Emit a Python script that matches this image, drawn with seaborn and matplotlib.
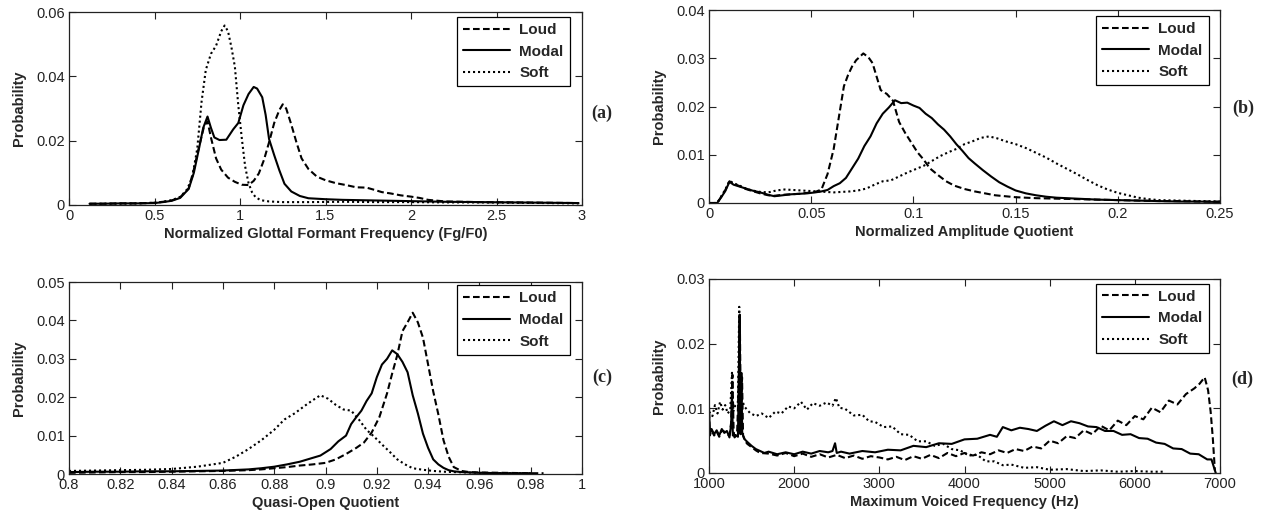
import matplotlib
matplotlib.use('Agg')
import matplotlib.pyplot as plt
import seaborn as sns

# ---- (a) Normalized Glottal Formant Frequency ----
a_loud_x = [0.12, 0.2, 0.3, 0.4, 0.5, 0.55, 0.6, 0.65, 0.7, 0.73, 0.76, 0.79, 0.81, 0.83, 0.86, 0.89, 0.93, 0.97,
            1.01, 1.05, 1.08, 1.11, 1.14, 1.17, 1.2, 1.23, 1.25, 1.27, 1.3, 1.33, 1.36, 1.4, 1.45, 1.5, 1.56, 1.62,
            1.68, 1.74, 1.78, 1.83, 1.88, 1.94, 2.0, 2.05, 2.1, 2.2, 2.4, 2.6, 2.8, 2.98]
a_loud_y = [0.0004, 0.0004, 0.0005, 0.0005, 0.0007, 0.001, 0.0014, 0.0024, 0.0052, 0.011, 0.018, 0.0245, 0.026,
            0.021, 0.0145, 0.011, 0.0085, 0.0072, 0.0063, 0.0062, 0.0075, 0.0098, 0.014, 0.0195, 0.0255, 0.0295,
            0.0313, 0.030, 0.025, 0.0195, 0.0145, 0.0112, 0.0088, 0.0077, 0.0068, 0.0062, 0.0055, 0.0054, 0.0048,
            0.004, 0.0036, 0.003, 0.0026, 0.0022, 0.0016, 0.0011, 0.0009, 0.0008, 0.0007, 0.0006]
a_modal_x = [0.12, 0.2, 0.3, 0.4, 0.5, 0.55, 0.6, 0.65, 0.7, 0.73, 0.76, 0.785, 0.81, 0.83, 0.85, 0.88, 0.92, 0.96,
             0.99, 1.02, 1.05, 1.08, 1.1, 1.13, 1.15, 1.17, 1.2, 1.23, 1.26, 1.3, 1.35, 1.4, 1.5, 1.6, 1.7, 1.8,
             1.9, 2.0, 2.2, 2.4, 2.6, 2.8, 2.98]
a_modal_y = [0.0004, 0.0004, 0.0005, 0.0005, 0.0006, 0.0009, 0.0013, 0.0022, 0.005, 0.01, 0.0175, 0.024, 0.0275,
             0.024, 0.021, 0.0202, 0.0203, 0.0235, 0.0255, 0.031, 0.0345, 0.0367, 0.0362, 0.0335, 0.028, 0.0205,
             0.0155, 0.0108, 0.0066, 0.0042, 0.0028, 0.0021, 0.0018, 0.0016, 0.0015, 0.0014, 0.0013, 0.0012, 0.001,
             0.0009, 0.0008, 0.0007, 0.0006]
a_soft_x = [0.12, 0.2, 0.3, 0.4, 0.5, 0.55, 0.6, 0.65, 0.69, 0.72, 0.75, 0.775, 0.8, 0.83, 0.86, 0.89, 0.91, 0.93,
            0.95, 0.97, 0.99, 1.01, 1.03, 1.05, 1.07, 1.09, 1.12, 1.17, 1.25, 1.4, 1.6, 1.8, 2.0, 2.2, 2.4, 2.6,
            2.8, 2.98]
a_soft_y = [0.0003, 0.0004, 0.0004, 0.0005, 0.0007, 0.001, 0.0015, 0.0025, 0.0048, 0.0085, 0.0175, 0.032, 0.042,
            0.047, 0.0495, 0.054, 0.0558, 0.054, 0.049, 0.043, 0.031, 0.021, 0.012, 0.0068, 0.004, 0.0025, 0.0015,
            0.0011, 0.0009, 0.0009, 0.001, 0.0009, 0.0009, 0.0008, 0.0008, 0.0007, 0.0006, 0.0005]

# ---- (b) Normalized Amplitude Quotient ----
b_modal_x = [0, 0.004, 0.006, 0.008, 0.01, 0.012, 0.015, 0.018, 0.021, 0.025, 0.029, 0.032, 0.036, 0.04, 0.044,
             0.048, 0.052, 0.055, 0.058, 0.061, 0.064, 0.067, 0.07, 0.073, 0.076, 0.079, 0.082, 0.085, 0.088,
             0.091, 0.094, 0.097, 0.1, 0.103, 0.106, 0.109, 0.112, 0.115, 0.118, 0.121, 0.124, 0.127, 0.13, 0.134,
             0.138, 0.142, 0.146, 0.15, 0.155, 0.16, 0.165, 0.17, 0.18, 0.19, 0.2, 0.21, 0.22, 0.23, 0.24, 0.25]
b_modal_y = [0, 0, 0.0012, 0.0025, 0.0044, 0.0038, 0.0034, 0.003, 0.0026, 0.0022, 0.0017, 0.0014, 0.0016, 0.0018,
             0.0019, 0.002, 0.0022, 0.0024, 0.0027, 0.0035, 0.0041, 0.0052, 0.0072, 0.0092, 0.0118, 0.0138, 0.0165,
             0.0185, 0.0198, 0.0213, 0.0207, 0.0208, 0.0202, 0.0197, 0.0185, 0.0176, 0.0163, 0.0152, 0.0138,
             0.0122, 0.0108, 0.0093, 0.0082, 0.0068, 0.0055, 0.0043, 0.0034, 0.0026, 0.002, 0.0016, 0.0013,
             0.0011, 0.0009, 0.0007, 0.0006, 0.0005, 0.0004, 0.0003, 0.0003, 0.0002]
b_loud_x = [0, 0.004, 0.006, 0.008, 0.01, 0.012, 0.015, 0.018, 0.021, 0.025, 0.029, 0.032, 0.036, 0.04, 0.044,
            0.048, 0.052, 0.055, 0.058, 0.061, 0.064, 0.066, 0.068, 0.07, 0.072, 0.074, 0.0755, 0.078, 0.08,
            0.082, 0.084, 0.087, 0.09, 0.093, 0.096, 0.099, 0.102, 0.105, 0.108, 0.112, 0.116, 0.12, 0.125, 0.13,
            0.135, 0.14, 0.145, 0.15, 0.16, 0.17, 0.18, 0.19, 0.2, 0.21, 0.22, 0.23, 0.24, 0.25]
b_loud_y = [0, 0, 0.0013, 0.0027, 0.0045, 0.004, 0.0035, 0.0029, 0.0025, 0.002, 0.0016, 0.0015, 0.0017, 0.0018,
            0.0019, 0.0021, 0.0023, 0.0028, 0.006, 0.0112, 0.019, 0.0242, 0.0265, 0.0283, 0.0296, 0.0304, 0.031,
            0.0302, 0.029, 0.0262, 0.0234, 0.0226, 0.0212, 0.0168, 0.0145, 0.0125, 0.0105, 0.009, 0.0072, 0.0058,
            0.0045, 0.0036, 0.0029, 0.0024, 0.002, 0.0016, 0.0014, 0.0012, 0.001, 0.0009, 0.0008, 0.0007, 0.0006,
            0.0005, 0.0004, 0.0004, 0.0003, 0.0003]
b_soft_x = [0, 0.004, 0.006, 0.008, 0.01, 0.012, 0.015, 0.018, 0.021, 0.025, 0.029, 0.033, 0.037, 0.041, 0.045,
            0.049, 0.053, 0.057, 0.061, 0.065, 0.069, 0.073, 0.077, 0.081, 0.085, 0.089, 0.093, 0.097, 0.101,
            0.105, 0.109, 0.113, 0.117, 0.121, 0.125, 0.129, 0.133, 0.137, 0.141, 0.145, 0.15, 0.155, 0.16,
            0.165, 0.17, 0.175, 0.18, 0.185, 0.19, 0.195, 0.2, 0.205, 0.21, 0.215, 0.22, 0.23, 0.24, 0.25]
b_soft_y = [0, 0, 0.0014, 0.0028, 0.0046, 0.0041, 0.0036, 0.003, 0.0026, 0.0023, 0.0022, 0.0026, 0.0028, 0.0027,
            0.0026, 0.0025, 0.0024, 0.0023, 0.0022, 0.0023, 0.0024, 0.0026, 0.003, 0.0038, 0.0045, 0.0047, 0.0055,
            0.0063, 0.007, 0.0077, 0.0087, 0.0097, 0.0105, 0.0112, 0.0122, 0.0128, 0.0135, 0.0138, 0.0134, 0.0128,
            0.0122, 0.0114, 0.0104, 0.0094, 0.0082, 0.0071, 0.006, 0.0048, 0.0037, 0.0028, 0.0021, 0.0016, 0.0011,
            0.0008, 0.0006, 0.0005, 0.0004, 0.0003]

# ---- (c) Quasi-Open Quotient ----
c_loud_x = [0.8, 0.81, 0.82, 0.83, 0.84, 0.85, 0.86, 0.87, 0.875, 0.88, 0.885, 0.89, 0.895, 0.9, 0.904, 0.908,
            0.912, 0.915, 0.918, 0.921, 0.924, 0.926, 0.928, 0.93, 0.932, 0.934, 0.936, 0.938, 0.94, 0.942, 0.944,
            0.946, 0.948, 0.95, 0.953, 0.956, 0.96, 0.97, 0.98, 0.985]
c_loud_y = [0.0003, 0.0004, 0.0005, 0.0005, 0.0006, 0.0007, 0.0008, 0.001, 0.0012, 0.0015, 0.0018, 0.0022, 0.0025,
            0.0029, 0.0038, 0.0052, 0.0068, 0.0082, 0.0108, 0.0148, 0.021, 0.0262, 0.031, 0.0372, 0.0395, 0.042,
            0.0395, 0.0355, 0.0285, 0.0215, 0.0155, 0.0088, 0.0045, 0.0018, 0.0008, 0.0005, 0.0004, 0.0003, 0.0002,
            0.0002]
c_modal_x = [0.8, 0.81, 0.82, 0.83, 0.84, 0.85, 0.86, 0.87, 0.875, 0.88, 0.885, 0.89, 0.894, 0.898, 0.902, 0.905,
             0.908, 0.91, 0.912, 0.914, 0.916, 0.918, 0.92, 0.922, 0.924, 0.926, 0.928, 0.93, 0.932, 0.934, 0.936,
             0.938, 0.94, 0.942, 0.944, 0.946, 0.948, 0.95, 0.953, 0.956, 0.96, 0.97, 0.98]
c_modal_y = [0.0005, 0.0006, 0.0006, 0.0007, 0.0007, 0.0008, 0.0009, 0.0012, 0.0015, 0.0019, 0.0025, 0.0032,
             0.004, 0.0048, 0.0065, 0.0085, 0.01, 0.013, 0.0148, 0.0165, 0.019, 0.021, 0.0252, 0.0285, 0.030,
             0.0322, 0.0312, 0.0292, 0.0265, 0.0205, 0.0158, 0.0105, 0.0068, 0.0038, 0.0025, 0.0016, 0.001,
             0.0007, 0.0005, 0.0004, 0.0003, 0.0002, 0.0002]
c_soft_x = [0.8, 0.81, 0.82, 0.83, 0.84, 0.845, 0.85, 0.855, 0.86, 0.865, 0.87, 0.875, 0.88, 0.884, 0.888, 0.892,
            0.895, 0.898, 0.901, 0.904, 0.907, 0.91, 0.913, 0.916, 0.919, 0.922, 0.925, 0.928, 0.931, 0.934, 0.938,
            0.942, 0.946, 0.95, 0.955, 0.96, 0.97, 0.98]
c_soft_y = [0.0008, 0.0009, 0.001, 0.0011, 0.0013, 0.0016, 0.0019, 0.0024, 0.0029, 0.0045, 0.0065, 0.0088, 0.0115,
            0.0142, 0.0158, 0.0178, 0.0192, 0.0205, 0.0196, 0.018, 0.0168, 0.0165, 0.0142, 0.0115, 0.0097, 0.0077,
            0.0058, 0.0038, 0.0025, 0.0015, 0.0011, 0.0008, 0.0006, 0.0005, 0.0004, 0.0003, 0.0002, 0.0002]

# ---- (d) Maximum Voiced Frequency ----
d_modal_x = [1000, 1010, 1030, 1060, 1090, 1120, 1150, 1180, 1210, 1240, 1260, 1270, 1280, 1290, 1300, 1320, 1340,
             1350, 1360, 1370, 1380, 1390, 1400, 1420, 1450, 1500, 1550, 1600, 1650, 1700, 1800, 1900, 2000, 2100,
             2200, 2300, 2400, 2450, 2480, 2500, 2550, 2650, 2800, 2950, 3100, 3250, 3400, 3550, 3700, 3850, 4000,
             4150, 4300, 4380, 4450, 4550, 4650, 4750, 4850, 4950, 5050, 5150, 5250, 5350, 5450, 5550, 5650, 5750,
             5850, 5950, 6050, 6150, 6250, 6350, 6450, 6550, 6650, 6750, 6850, 6900, 6950]
d_modal_y = [0.0102, 0.0062, 0.0068, 0.006, 0.0066, 0.0058, 0.0068, 0.0062, 0.0065, 0.0055, 0.0075, 0.0125,
             0.0058, 0.0062, 0.0055, 0.0058, 0.0056, 0.015, 0.0245, 0.006, 0.0155, 0.0062, 0.0058, 0.0052, 0.0048,
             0.0042, 0.0037, 0.0034, 0.0031, 0.0033, 0.0029, 0.0032, 0.0029, 0.0033, 0.003, 0.0034, 0.0032, 0.0034,
             0.0046, 0.0031, 0.0033, 0.003, 0.0034, 0.0032, 0.0036, 0.0035, 0.0042, 0.004, 0.0046, 0.0045, 0.0052,
             0.0053, 0.0059, 0.0056, 0.0071, 0.0066, 0.007, 0.0068, 0.0065, 0.0073, 0.008, 0.0074, 0.008, 0.0077,
             0.0072, 0.0071, 0.0065, 0.0065, 0.0059, 0.006, 0.0054, 0.0053, 0.0047, 0.0045, 0.0038, 0.0037, 0.003,
             0.0029, 0.0021, 0.0021, 0.0]
d_loud_x = [1000, 1010, 1030, 1060, 1090, 1120, 1150, 1180, 1210, 1240, 1260, 1275, 1290, 1310, 1330, 1350, 1362,
            1375, 1388, 1400, 1420, 1450, 1500, 1550, 1600, 1700, 1800, 1900, 2000, 2100, 2200, 2300, 2400, 2500,
            2600, 2700, 2800, 2900, 3000, 3100, 3200, 3300, 3400, 3500, 3600, 3700, 3800, 3900, 4000, 4100, 4200,
            4300, 4400, 4500, 4600, 4700, 4800, 4900, 5000, 5100, 5200, 5300, 5400, 5500, 5600, 5700, 5800, 5900,
            6000, 6100, 6200, 6300, 6400, 6500, 6600, 6700, 6760, 6820, 6860, 6890, 6915, 6940]
d_loud_y = [0.0095, 0.0058, 0.0066, 0.0058, 0.0064, 0.0056, 0.0066, 0.0064, 0.006, 0.0058, 0.0078, 0.0152, 0.006,
            0.0057, 0.0062, 0.014, 0.024, 0.0062, 0.0148, 0.0058, 0.005, 0.0045, 0.004, 0.0035, 0.0031, 0.003,
            0.0027, 0.0031, 0.0026, 0.003, 0.0025, 0.0029, 0.0024, 0.0028, 0.0023, 0.0027, 0.0022, 0.0026, 0.0024,
            0.0021, 0.0025, 0.002, 0.0026, 0.0022, 0.0028, 0.0023, 0.0031, 0.0026, 0.0031, 0.0027, 0.0032, 0.0029,
            0.0035, 0.0031, 0.0037, 0.0034, 0.0041, 0.0038, 0.005, 0.0046, 0.0057, 0.0054, 0.0066, 0.006, 0.0073,
            0.0066, 0.0081, 0.0074, 0.0088, 0.0083, 0.0101, 0.0094, 0.0112, 0.0106, 0.0122, 0.0131, 0.0138, 0.0148,
            0.0128, 0.0095, 0.0055, 0.0004]
d_soft_x = [1000, 1040, 1070, 1100, 1130, 1160, 1190, 1220, 1250, 1270, 1285, 1310, 1340, 1355, 1368, 1380, 1420,
            1480, 1550, 1620, 1700, 1780, 1850, 1930, 2000, 2080, 2150, 2220, 2300, 2380, 2450, 2490, 2530, 2600,
            2700, 2800, 2880, 2950, 3050, 3150, 3250, 3350, 3450, 3550, 3650, 3750, 3850, 3950, 4050, 4150, 4250,
            4350, 4450, 4550, 4700, 4850, 5000, 5200, 5400, 5600, 5800, 6000, 6200, 6350]
d_soft_y = [0.0095, 0.0088, 0.0105, 0.0092, 0.011, 0.0098, 0.0105, 0.0092, 0.0098, 0.0155, 0.0095, 0.0105, 0.011,
            0.0257, 0.009, 0.0115, 0.0102, 0.0093, 0.0088, 0.0092, 0.0085, 0.0095, 0.0092, 0.0103, 0.01, 0.011,
            0.0098, 0.0108, 0.0104, 0.0109, 0.0104, 0.0116, 0.0101, 0.0099, 0.0089, 0.009, 0.008, 0.0079, 0.0071,
            0.0072, 0.006, 0.0059, 0.0049, 0.0049, 0.0042, 0.0045, 0.0037, 0.0035, 0.0027, 0.0028, 0.0018, 0.0018,
            0.0012, 0.0013, 0.0008, 0.0009, 0.0005, 0.0006, 0.0003, 0.0004, 0.0002, 0.0003, 0.0002, 0.0002]

panels = [
    dict(pos=[69, 12, 582, 205], xlim=(0, 3), xticks=[0, 0.5, 1, 1.5, 2, 2.5, 3],
         ylim=(0, 0.06), yticks=[0, 0.02, 0.04, 0.06],
         xlabel='Normalized Glottal Formant Frequency (Fg/F0)', tag='(a)', tagpos=(602, 113),
         series=[(a_loud_x, a_loud_y), (a_modal_x, a_modal_y), (a_soft_x, a_soft_y)], leg=(0.976, 0.975)),
    dict(pos=[709, 10, 1220, 203], xlim=(0, 0.25), xticks=[0, 0.05, 0.1, 0.15, 0.2, 0.25],
         ylim=(0, 0.04), yticks=[0, 0.01, 0.02, 0.03, 0.04],
         xlabel='Normalized Amplitude Quotient', tag='(b)', tagpos=(1243, 108),
         series=[(b_loud_x, b_loud_y), (b_modal_x, b_modal_y), (b_soft_x, b_soft_y)], leg=(0.978, 0.970)),
    dict(pos=[69, 282, 582, 474], xlim=(0.8, 1), xticks=[0.8, 0.82, 0.84, 0.86, 0.88, 0.9, 0.92, 0.94, 0.96, 0.98, 1],
         ylim=(0, 0.05), yticks=[0, 0.01, 0.02, 0.03, 0.04, 0.05],
         xlabel='Quasi-Open Quotient', tag='(c)', tagpos=(602, 377),
         series=[(c_loud_x, c_loud_y), (c_modal_x, c_modal_y), (c_soft_x, c_soft_y)], leg=(0.976, 0.983)),
    dict(pos=[709, 279, 1220, 473], xlim=(1000, 7000), xticks=[1000, 2000, 3000, 4000, 5000, 6000, 7000],
         ylim=(0, 0.03), yticks=[0, 0.01, 0.02, 0.03],
         xlabel='Maximum Voiced Frequency (Hz)', tag='(d)', tagpos=(1242, 379),
         series=[(d_loud_x, d_loud_y), (d_modal_x, d_modal_y), (d_soft_x, d_soft_y)], leg=(0.978, 0.976)),
]

names = ['Loud', 'Modal', 'Soft']
styles = [(0, (3.2, 1.6)), '-', (0, (1, 1.4))]

sns.set_style('ticks')
plt.rcParams['font.family'] = ['Liberation Sans', 'DejaVu Sans']
plt.rcParams['xtick.direction'] = 'in'
plt.rcParams['ytick.direction'] = 'in'

W, H = 1266, 516
fig = plt.figure(figsize=(W / 100, H / 100), dpi=100)

for p in panels:
    l, t, r, b = p['pos']
    ax = fig.add_axes([l / W, 1 - b / H, (r - l) / W, (b - t) / H])
    for (xs, ys), name, ls in zip(p['series'], names, styles):
        sns.lineplot(x=xs, y=ys, ax=ax, color='black', lw=1.5, linestyle=ls, label=name,
                     estimator=None, errorbar=None)
    ax.set_xlim(p['xlim'])
    ax.set_ylim(p['ylim'])
    ax.set_xticks(p['xticks'])
    ax.set_xticklabels([('%g' % v) for v in p['xticks']])
    ax.set_yticks(p['yticks'])
    ax.set_yticklabels([('%g' % v) for v in p['yticks']])
    ax.tick_params(axis='both', which='both', direction='in', top=True, right=True, length=5, width=0.8,
                   labelsize=10.5, colors='#222222', pad=3)
    for s in ax.spines.values():
        s.set_visible(True)
        s.set_linewidth(0.9)
        s.set_color('#222222')
    ax.set_xlabel(p['xlabel'], fontsize=10.5, fontweight='bold', labelpad=3)
    ax.set_ylabel('Probability', fontsize=10.5, fontweight='bold', labelpad=7)
    leg = ax.legend(loc='upper right', bbox_to_anchor=p['leg'], borderaxespad=0, fancybox=False,
                    framealpha=1, edgecolor='black', handlelength=3.1, handletextpad=0.6,
                    labelspacing=0.5, borderpad=0.4, prop={'weight': 'bold', 'size': 11})
    leg.get_frame().set_linewidth(0.9)
    fig.text(p['tagpos'][0] / W, 1 - p['tagpos'][1] / H, p['tag'], ha='center', va='center',
             fontsize=13, fontweight='bold', family=['Liberation Serif', 'DejaVu Serif'])

fig.savefig('out.png', dpi=100)
